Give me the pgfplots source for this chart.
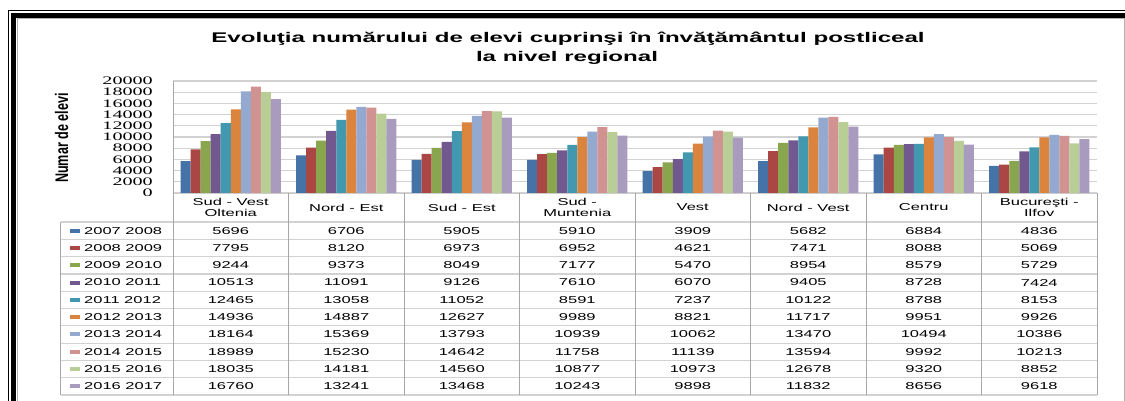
\documentclass[border=0pt]{standalone}
\usepackage{pgfplots}
\pgfplotsset{compat=1.18}
\usepackage{pgfplotstable}
\usepackage{graphicx}
\usepackage{fontspec}
\setmainfont{Liberation Sans}
\newfontfamily\titlefont{Liberation Sans}[FakeStretch=1.72]
\newfontfamily\tabfont{Liberation Sans}[FakeStretch=1.65]
\newfontfamily\tickfont{Liberation Serif}[FakeStretch=1.75]

\definecolor{c1}{HTML}{4572A7}
\definecolor{c2}{HTML}{AA4643}
\definecolor{c3}{HTML}{89A54E}
\definecolor{c4}{HTML}{71588F}
\definecolor{c5}{HTML}{4198AF}
\definecolor{c6}{HTML}{DB843D}
\definecolor{c7}{HTML}{93A9CF}
\definecolor{c8}{HTML}{D19392}
\definecolor{c9}{HTML}{B9CD96}
\definecolor{c10}{HTML}{A99BBD}

% rows: regions; columns: school years
\pgfplotstableread{
idx s1 s2 s3 s4 s5 s6 s7 s8 s9 s10
0 5696 7795 9244 10513 12465 14936 18164 18989 18035 16760
1 6706 8120 9373 11091 13058 14887 15369 15230 14181 13241
2 5905 6973 8049 9126 11052 12627 13793 14642 14560 13468
3 5910 6952 7177 7610 8591 9989 10939 11758 10877 10243
4 3909 4621 5470 6070 7237 8821 10062 11139 10973 9898
5 5682 7471 8954 9405 10122 11717 13470 13594 12678 11832
6 6884 8088 8579 8728 8788 9951 10494 9992 9320 8656
7 4836 5069 5729 7424 8153 9926 10386 10213 8852 9618
}\data

\begin{document}
\begin{tikzpicture}
\path[use as bounding box] (0pt,0pt) rectangle (1125pt,400pt);
\clip (0pt,0pt) rectangle (1125pt,400pt);
\fill[white] (0pt,0pt) rectangle (1125pt,400pt);
\begin{axis}[
  at={(173pt,207pt)}, anchor=south west,
  scale only axis, width=924pt, height=112pt,
  xmin=-0.5, xmax=7.5, ymin=0, ymax=20000,
  ybar=0pt, bar width=0.0866,
  axis lines*=left,
  x axis line style={draw=none},
  y axis line style={gray!70, line width=0.7pt},
  xtick=\empty,
  ytick={0,2000,...,20000},
  scaled y ticks=false,
  ymajorgrids, grid style={gray!35, line width=1.2pt},
  major tick length=0pt,
  yticklabel style={font=\tickfont\fontsize{11.5}{12}\selectfont, anchor=east, inner sep=0pt, xshift=-20pt},
  /pgf/number format/.cd, fixed, precision=0, 1000 sep={}, assume math mode=true,
]
\addplot[fill=c1, draw=none] table[x=idx, y=s1] {\data};
\addplot[fill=c2, draw=none] table[x=idx, y=s2] {\data};
\addplot[fill=c3, draw=none] table[x=idx, y=s3] {\data};
\addplot[fill=c4, draw=none] table[x=idx, y=s4] {\data};
\addplot[fill=c5, draw=none] table[x=idx, y=s5] {\data};
\addplot[fill=c6, draw=none] table[x=idx, y=s6] {\data};
\addplot[fill=c7, draw=none] table[x=idx, y=s7] {\data};
\addplot[fill=c8, draw=none] table[x=idx, y=s8] {\data};
\addplot[fill=c9, draw=none] table[x=idx, y=s9] {\data};
\addplot[fill=c10, draw=none] table[x=idx, y=s10] {\data};
\end{axis}
\begin{scope}[x=1pt, y=1pt]
% frame
\draw[black, line width=0.8pt] (8,-5) -- (8,389.3) -- (1130,389.3);
\draw[black, line width=4.5pt] (13.3,-5) -- (13.3,384.7) -- (1130,384.7);
\draw[gray!60, line width=0.6pt] (17.5,-5) -- (17.5,381.6) -- (1124,381.6) -- (1124,-5);
% title
\node[font=\titlefont\bfseries\fontsize{14}{16}\selectfont, anchor=base, inner sep=0pt] at (568,357) {Evoluţia numărului de elevi cuprinşi în învăţământul postliceal};
\node[font=\titlefont\bfseries\fontsize{14}{16}\selectfont, anchor=base, inner sep=0pt] at (567,338) {la nivel regional};
% y label
\node[rotate=90, font=\bfseries\fontsize{13}{15}\selectfont, inner sep=0pt] at (61.7,262) {\scalebox{0.97}[1.4]{Numar de elevi}};
% table grid
\draw[gray!40, line width=0.6pt] (173,207) -- (1097,207);
\foreach \k in {0,...,10} {
  \draw[gray!35, line width=1.2pt] (60.7,{178-17.3*\k}) -- (1097,{178-17.3*\k});
}
\draw[gray!70, line width=0.7pt] (60.7,178) -- (60.7,5);
\foreach \c in {0,...,8} {
  \draw[gray!70, line width=0.7pt] ({173+115.5*\c},207) -- ({173+115.5*\c},5);
}
% header
\foreach \name [count=\i from 0] in {{Sud - Vest\\Oltenia},{Nord - Est},{Sud - Est},{Sud -\\Muntenia},{Vest},{Nord - Vest},{Centru},{Bucureşti -\\Ilfov}} {
  \node[align=center, inner sep=0pt, font=\tabfont\mdseries\fontsize{10}{11.3}\selectfont] at ({173+115.5*(\i+0.5)},192.5) {\name};
}
% row labels
\foreach \lab [count=\k] in {2007 2008,2008 2009,2009 2010,2010 2011,2011 2012,2012 2013,2013 2014,2014 2015,2015 2016,2016 2017} {
  \fill[fill=c\k] (70,{178-17.3*(\k-0.5)-2}) rectangle (80,{178-17.3*(\k-0.5)+2});
  \node[anchor=west, inner sep=0pt, font=\tabfont\fontsize{10}{11.3}\selectfont] at (84,{178-17.3*(\k-0.5)}) {\lab};
}
% values
\foreach \r in {0,...,7} {
  \foreach \k in {1,...,10} {
    \pgfplotstablegetelem{\r}{s\k}\of\data
    \node[inner sep=0pt, font=\tabfont\fontsize{10}{11.3}\selectfont] at ({173+115.5*(\r+0.5)},{178-17.3*(\k-0.5)}) {\pgfplotsretval};
  }
}
\end{scope}
\end{tikzpicture}
\end{document}
